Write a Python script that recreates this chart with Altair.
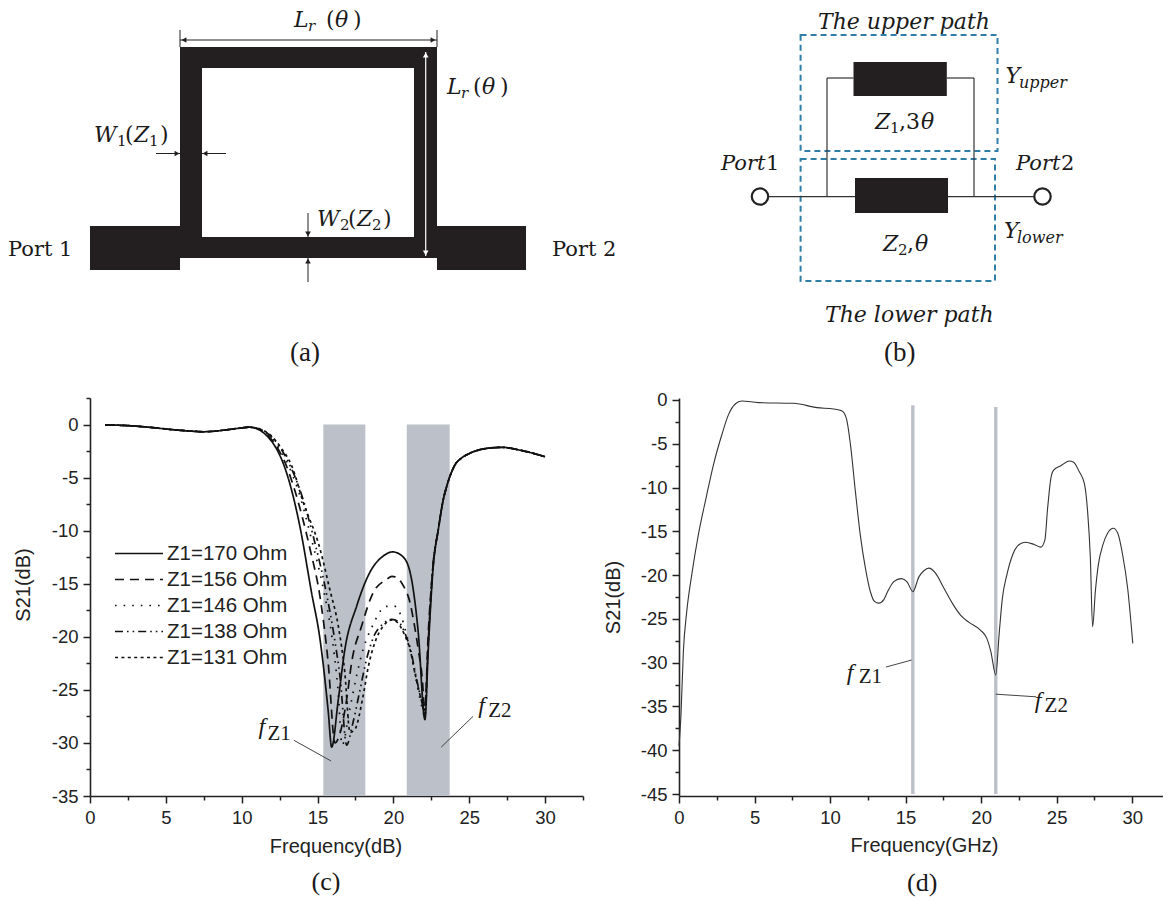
import altair as alt
import pandas as pd

SERIF = "Liberation Serif"
MATH = "DejaVu Serif"
SANS = "Liberation Sans"
INK = "#231f20"
BOX = "#2f7ea8"
BAND = "#bcc0c8"

# ---------- panel (a): layout drawing, units are drawing units ----------
a_rect_x = [180, 180, 414, 180, 90, 437]
a_rect_x2 = [437, 202, 437, 437, 180, 526]
a_rect_y = [47, 47, 47, 237, 226, 226]
a_rect_y2 = [68, 258, 258, 258, 270, 270]

a_line_x = [180, 180, 437, 156, 226, 308, 308]
a_line_x2 = [437, 180, 437, 180, 202, 308, 308]
a_line_y = [40, 30, 30, 153.5, 153.5, 213, 282]
a_line_y2 = [40, 47, 47, 153.5, 153.5, 237, 258]

a_white_x = [425.7]
a_white_y = [52]
a_white_y2 = [256]

a_arrow_x = [184, 433, 177, 205, 308, 308]
a_arrow_y = [40, 40, 153.5, 153.5, 234, 261]
a_arrow_s = ["triangle-left", "triangle-right", "triangle-right", "triangle-left", "triangle-down", "triangle-up"]
a_warrow_x = [425.7, 425.7]
a_warrow_y = [55, 253]
a_warrow_s = ["triangle-up", "triangle-down"]

a_it_text = ["L", "r", "θ", "L", "r", "θ", "W", "Z", "W", "Z"]
a_it_x = [294, 308, 335, 447, 461, 482, 94, 134, 317, 357]
a_it_y = [27, 31, 27, 94, 98, 94, 142, 142, 226, 226]
a_it_size = [22, 15, 22, 22, 15, 22, 22, 22, 22, 22]

a_ro_text = ["(", ")", "(", ")", "1", "(", "1", ")", "2", "(", "2", ")", "Port 1", "Port 2"]
a_ro_x = [326, 353, 473, 500, 117, 125, 149, 160, 340, 348, 372, 383, 8, 552]
a_ro_y = [27, 27, 94, 94, 146, 142, 146, 142, 230, 226, 230, 226, 256, 256]
a_ro_size = [22, 22, 22, 22, 15, 22, 15, 22, 15, 22, 15, 22, 21, 21]

# ---------- panel (b): circuit drawing ----------
b_box_x = [800.6, 800.6]
b_box_x2 = [997.5, 995]
b_box_y = [35, 159]
b_box_y2 = [151, 281]

b_block_x = [853.5, 855]
b_block_x2 = [946.8, 948]
b_block_y = [62, 178]
b_block_y2 = [96, 213]

b_wire_x = [760, 827, 827, 946.8, 974]
b_wire_x2 = [1042.5, 827, 853.5, 974, 974]
b_wire_y = [196.7, 78, 78, 78, 78]
b_wire_y2 = [196.7, 196.7, 78, 78, 196.7]

b_port_x = [760, 1042.5]
b_port_y = [196.5, 196.5]

b_it_text = ["The upper path", "The lower path", "Y", "upper", "Y", "lower", "Z", "θ", "Z", "θ", "Port", "Port"]
b_it_x = [818, 825, 1005.6, 1019, 1004, 1017, 875, 921, 883, 915, 721, 1016]
b_it_y = [28.5, 322, 83, 88, 238, 243, 129, 129, 251, 251, 170, 170]
b_it_size = [22, 22, 22, 16, 22, 16, 22, 22, 22, 22, 21, 21]

b_ro_text = ["1", ",", "3", "2", ",", "1", "2"]
b_ro_x = [890, 899, 906, 898, 907, 766, 1061]
b_ro_y = [133, 129, 129, 255, 251, 170, 170]
b_ro_size = [15, 22, 22, 15, 22, 21, 21]

# ---------- panel (c): simulated S21 ----------
PASS_X = [1, 2, 3, 4, 5, 6, 7, 7.5, 8, 9, 10, 10.5]
PASS_Y = [-0.03, -0.07, -0.15, -0.27, -0.42, -0.55, -0.65, -0.68, -0.65, -0.5, -0.32, -0.25]
TAIL_X = [22.96, 23.3, 23.5, 24.06, 24.5, 25.05, 26.15, 27.2, 28.3, 30]
TAIL_Y = [-9.9, -7.0, -5.9, -3.8, -3.15, -2.7, -2.25, -2.15, -2.4, -3.03]

z170_x = [11, 11.65, 12.3, 12.75, 13.18, 13.85, 14.6, 15.16, 15.71, 15.93, 16.37, 16.8, 17.58, 18.46, 19.32, 19.95, 20.66, 21.2, 21.64, 22.08, 22.3, 22.63]
z170_y = [-0.4, -1.05, -2.3, -3.7, -5.6, -9.7, -15.8, -20.2, -27.1, -30.4, -25.9, -21.2, -17.1, -13.9, -12.4, -12.0, -12.5, -14.6, -19.6, -27.8, -21.2, -13.3]
z156_x = [11, 11.7, 12.4, 12.95, 13.5, 14.5, 15.16, 15.7, 16.15, 16.5, 16.92, 17.25, 17.9, 18.68, 19.55, 19.9, 20.3, 20.66, 21.1, 21.36, 21.64, 21.97, 22.05, 22.3, 22.63]
z156_y = [-0.38, -1.0, -2.3, -3.9, -6.2, -11.7, -16.2, -22.4, -30.0, -29.0, -25.9, -22.4, -19.0, -15.8, -14.6, -14.3, -14.5, -15.2, -16.8, -18.7, -21.2, -25.3, -27.5, -19.6, -13.2]
z146_x = [11, 11.8, 12.5, 13.1, 13.7, 14.6, 15.4, 15.95, 16.35, 16.62, 17.1, 17.6, 18.0, 18.68, 19.0, 19.45, 20.04, 20.5, 20.83, 21.2, 21.53, 21.95, 22.08, 22.3, 22.6]
z146_y = [-0.36, -1.0, -2.3, -3.9, -6.1, -10.8, -15.6, -20.0, -25.0, -30.2, -27.0, -23.5, -21.2, -18.8, -17.9, -17.15, -17.1, -18.0, -19.6, -21.8, -24.3, -27.0, -27.6, -20.5, -13.6]
z138_x = [11, 11.85, 12.6, 13.2, 13.85, 14.8, 15.6, 16.1, 16.5, 16.92, 17.3, 17.8, 18.2, 18.7, 19.3, 19.9, 20.35, 20.8, 21.15, 21.5, 21.9, 22.07, 22.3, 22.6]
z138_y = [-0.34, -1.0, -2.3, -3.9, -6.2, -11.0, -16.0, -20.0, -24.0, -30.2, -28.3, -25.0, -22.3, -20.0, -18.8, -18.35, -18.6, -19.8, -21.3, -23.8, -26.3, -27.3, -20.5, -13.4]
z131_x = [11, 11.9, 12.65, 13.3, 14.05, 15.16, 15.8, 16.37, 16.8, 17.14, 17.47, 18.0, 18.35, 18.79, 19.33, 19.9, 20.3, 20.76, 21.1, 21.42, 21.85, 22.05, 22.3, 22.6]
z131_y = [-0.33, -1.0, -2.3, -3.9, -7.3, -11.7, -15.5, -19.0, -23.4, -29.0, -28.7, -25.6, -22.8, -20.5, -19.0, -18.4, -18.7, -19.9, -21.2, -23.4, -26.0, -27.0, -20.5, -13.5]

c_names = ["Z1=170 Ohm", "Z1=156 Ohm", "Z1=146 Ohm", "Z1=138 Ohm", "Z1=131 Ohm"]
c_dashes = [[1, 0], [9, 6], [1.6, 7], [8, 4, 1.6, 4, 1.6, 4], [3, 3.4]]
c_band_x = [15.38, 20.88]
c_band_x2 = [18.15, 23.71]
c_band_y = [0, 0]
c_band_y2 = [-35, -35]
c_lead_x = [13.44, 25.25]
c_lead_x2 = [15.89, 23.15]
c_lead_y = [-29.75, -27.5]
c_lead_y2 = [-31.7, -30.4]
c_it_text = ["f", "f"]
c_it_x = [11.1, 25.6]
c_it_y = [-29.2, -27.2]
c_sub_text = ["Z1", "Z2", "(c)"]
c_sub_x = [11.7, 26.25, 14.6]
c_sub_y = [-29.7, -27.6, -43.9]
c_sub_size = [21, 21, 26]

# ---------- panel (d): measured S21 ----------
d_x = [0.0, 0.13, 0.29, 0.51, 0.84, 1.28, 1.79, 2.28, 2.83, 3.27, 3.72, 4.16, 5.26, 7.59, 9.14, 10.24, 10.79, 11.08, 11.35, 11.68, 12.0, 12.34, 12.67, 12.94, 13.23, 13.56, 13.78, 14.22, 14.71, 15.11, 15.48, 15.88, 16.21, 16.54, 16.99, 17.54, 18.09, 18.65, 19.2, 19.97, 20.37, 20.64, 20.97, 21.19, 21.41, 21.7, 22.08, 22.52, 22.96, 23.51, 23.95, 24.22, 24.4, 24.62, 24.8, 25.28, 25.83, 26.12, 26.5, 26.83, 27.05, 27.23, 27.38, 27.56, 27.76, 28.05, 28.38, 28.75, 29.04, 29.37, 29.7, 30.04]
d_y = [-39.5, -36.0, -28.7, -24.2, -20.0, -15.4, -11.2, -7.4, -4.0, -1.7, -0.46, -0.11, -0.3, -0.38, -0.87, -1.03, -1.25, -2.1, -5.1, -10.5, -15.4, -19.2, -21.9, -23.0, -23.2, -22.8, -22.0, -20.75, -20.4, -20.8, -21.9, -20.2, -19.5, -19.2, -19.8, -21.5, -23.2, -24.6, -25.4, -26.3, -27.2, -28.7, -31.4, -26.8, -22.6, -20.0, -17.7, -16.5, -16.25, -16.5, -16.8, -16.0, -12.4, -8.9, -8.0, -7.5, -6.97, -7.1, -8.2, -9.5, -12.75, -18.0, -25.9, -21.9, -18.8, -16.6, -15.2, -14.65, -15.2, -17.7, -21.5, -27.8]
d_mark_x = [15.48, 20.97]
d_mark_top = [-0.6, -0.8]
d_mark_bottom = [-45, -45]
d_lead_x = [13.7, 20.97]
d_lead_x2 = [15.4, 23.65]
d_lead_y = [-30.5, -33.6]
d_lead_y2 = [-29.7, -33.9]
d_it_text = ["f", "f"]
d_it_x = [11.1, 23.55]
d_it_y = [-32.0, -35.2]
d_sub_text = ["Z1", "Z2", "(d)"]
d_sub_x = [11.9, 24.2, 15.1]
d_sub_y = [-32.3, -35.6, -56.1]
d_sub_size = [21, 21, 26]

c_x_ticks = [i * 2.5 for i in range(14)]
c_y_ticks = [2.5 - i * 2.5 for i in range(16)]
d_x_ticks = [i * 2.5 for i in range(13)]
d_y_ticks = [-i * 2.5 for i in range(19)]

# ---------- helpers ----------
SX_A = alt.Scale(domain=[90, 583], nice=False, zero=False)
SX_B = alt.Scale(domain=[679, 1163], nice=False, zero=False)
SY = alt.Scale(domain=[370, 8], nice=False, zero=False)
S_C_X = alt.Scale(domain=[0, 32.5], nice=False, zero=False)
S_C_Y = alt.Scale(domain=[-35, 2.5], nice=False, zero=False)
S_D_X = alt.Scale(domain=[0, 32.04], nice=False, zero=False)
S_D_Y = alt.Scale(domain=[-45.228, 0.228], nice=False, zero=False)


def make_axis(title, values, labels_at=5, **kw):
    test = f"abs(datum.value % {labels_at}) < 0.01"
    return alt.Axis(
        title=title, values=values, grid=False, labelOverlap=False,
        labelExpr=f"{test} ? '' + datum.value : ''",
        tickSize={"condition": {"test": test, "value": 7}, "value": 4},
        tickColor="#222222", tickWidth=1.5, domainColor="#222222", domainWidth=1.6,
        labelColor="#222222", labelFont=SANS, labelFontSize=18.5, labelPadding=5,
        titleColor="#222222", titleFont=SANS, titleFontSize=20, titleFontWeight="normal",
        labelFlush=False, labelBound=False, **kw)


AX_C_X = make_axis("Frequency(dB)", c_x_ticks, titleX=245.5, titleY=40)
AX_C_Y = make_axis("S21(dB)", c_y_ticks, titleX=-56.5, titleY=186.5)
AX_D_X = make_axis("Frequency(GHz)", d_x_ticks, titleX=245, titleY=39)
AX_D_Y = make_axis("S21(dB)", d_y_ticks, titleX=-56, titleY=199)
AXES = {id(SX_A): None, id(SX_B): None, id(SY): None,
        id(S_C_X): AX_C_X, id(S_C_Y): AX_C_Y, id(S_D_X): AX_D_X, id(S_D_Y): AX_D_Y}


def X(f, s):
    return alt.X(f, scale=s, axis=AXES[id(s)])


def Y(f, s):
    return alt.Y(f, scale=s, axis=AXES[id(s)])


def rects(xs, x2s, ys, y2s, sx, sy, **mark):
    d = pd.DataFrame({"x": xs, "x2": x2s, "y": ys, "y2": y2s})
    return alt.Chart(d).mark_rect(**mark).encode(x=X("x:Q", sx), x2="x2:Q", y=Y("y:Q", sy), y2="y2:Q")


def segs(xs, x2s, ys, y2s, sx, sy, **mark):
    d = pd.DataFrame({"x": xs, "x2": x2s, "y": ys, "y2": y2s})
    return alt.Chart(d).mark_rule(**mark).encode(x=X("x:Q", sx), x2="x2:Q", y=Y("y:Q", sy), y2="y2:Q")


def arrows(xs, ys, shapes, sx, sy, color):
    d = pd.DataFrame({"x": xs, "y": ys, "s": shapes})
    return alt.Chart(d).mark_point(filled=True, size=32, opacity=1, color=color).encode(
        x=X("x:Q", sx), y=Y("y:Q", sy), shape=alt.Shape("s:N", scale=None))


def texts(ts, xs, ys, sizes, sx, sy, italic=False, color="#1a1a1a", font=SERIF):
    d = pd.DataFrame({"t": ts, "x": xs, "y": ys, "z": sizes})
    kw = {"fontStyle": "italic"} if italic else {}
    return alt.Chart(d).mark_text(align="left", baseline="alphabetic", font=font, color=color, **kw).encode(
        x=X("x:Q", sx), y=Y("y:Q", sy), size=alt.Size("z:Q", scale=None), text="t:N")


# ---------- build panels ----------
panel_a = alt.layer(
    rects(a_rect_x, a_rect_x2, a_rect_y, a_rect_y2, SX_A, SY, color=INK),
    segs(a_line_x, a_line_x2, a_line_y, a_line_y2, SX_A, SY, color=INK, strokeWidth=1),
    segs(a_white_x, a_white_x, a_white_y, a_white_y2, SX_A, SY, color="white", strokeWidth=1.2),
    arrows(a_arrow_x, a_arrow_y, a_arrow_s, SX_A, SY, INK),
    arrows(a_warrow_x, a_warrow_y, a_warrow_s, SX_A, SY, "white"),
    texts(a_it_text, a_it_x, a_it_y, a_it_size, SX_A, SY, italic=True, font=MATH),
    texts(a_ro_text, a_ro_x, a_ro_y, a_ro_size, SX_A, SY, font=MATH),
    texts(["(a)"], [290], [361], [27], SX_A, SY),
).properties(width=493, height=362)

port_df = pd.DataFrame({"x": b_port_x, "y": b_port_y})
panel_b = alt.layer(
    rects(b_box_x, b_box_x2, b_box_y, b_box_y2, SX_B, SY, fillOpacity=0, stroke=BOX, strokeWidth=2, strokeDash=[6, 4]),
    segs(b_wire_x, b_wire_x2, b_wire_y, b_wire_y2, SX_B, SY, color="#333333", strokeWidth=1.2),
    rects(b_block_x, b_block_x2, b_block_y, b_block_y2, SX_B, SY, color=INK),
    alt.Chart(port_df).mark_point(size=270, fill="white", fillOpacity=1, stroke="#222222", strokeWidth=2.2, opacity=1, shape="circle").encode(
        x=X("x:Q", SX_B), y=Y("y:Q", SY)),
    texts(b_it_text, b_it_x, b_it_y, b_it_size, SX_B, SY, italic=True, font=MATH),
    texts(b_ro_text, b_ro_x, b_ro_y, b_ro_size, SX_B, SY, font=MATH),
    texts(["(b)"], [884], [361], [27], SX_B, SY),
).properties(width=484, height=362)

rows = []
all_c = [(PASS_X + z170_x + TAIL_X, PASS_Y + z170_y + TAIL_Y),
         (PASS_X + z156_x + TAIL_X, PASS_Y + z156_y + TAIL_Y),
         (PASS_X + z146_x + TAIL_X, PASS_Y + z146_y + TAIL_Y),
         (PASS_X + z138_x + TAIL_X, PASS_Y + z138_y + TAIL_Y),
         (PASS_X + z131_x + TAIL_X, PASS_Y + z131_y + TAIL_Y)]
for name, (xs, ys) in zip(c_names, all_c):
    rows += [{"series": name, "f": a, "s21": b} for a, b in zip(xs, ys)]
c_df = pd.DataFrame(rows)

c_lines = alt.Chart(c_df).mark_line(interpolate="monotone", color="#111111", strokeWidth=1.7).encode(
    x=X("f:Q", S_C_X), y=Y("s21:Q", S_C_Y),
    strokeDash=alt.StrokeDash("series:N", sort=c_names, scale=alt.Scale(domain=c_names, range=c_dashes), legend=alt.Legend(
        title=None, orient="none", legendX=24, legendY=145.5, padding=0, symbolType="stroke", symbolSize=2304,
        symbolStrokeColor="#111111", symbolStrokeWidth=1.6, labelFont=SANS, labelFontSize=20.5, labelColor="#222222",
        labelOffset=3, rowPadding=5, clipHeight=20, columnPadding=0)))

panel_c = alt.layer(
    rects(c_band_x, c_band_x2, c_band_y, c_band_y2, S_C_X, S_C_Y, color=BAND),
    c_lines,
    segs(c_lead_x, c_lead_x2, c_lead_y, c_lead_y2, S_C_X, S_C_Y, color="#444444", strokeWidth=1),
    texts(c_it_text, c_it_x, c_it_y, [24, 24], S_C_X, S_C_Y, italic=True),
    texts(c_sub_text, c_sub_x, c_sub_y, c_sub_size, S_C_X, S_C_Y),
).properties(width=493, height=398)

d_df = pd.DataFrame({"f": d_x, "s21": d_y})
d_mark_df = pd.DataFrame({"x": d_mark_x, "y": d_mark_top, "y2": d_mark_bottom})
panel_d = alt.layer(
    alt.Chart(d_mark_df).mark_rule(color=BAND, strokeWidth=3.4).encode(
        x=X("x:Q", S_D_X), y=Y("y:Q", S_D_Y), y2="y2:Q"),
    alt.Chart(d_df).mark_line(interpolate="monotone", color="#333333", strokeWidth=1.1).encode(
        x=X("f:Q", S_D_X), y=Y("s21:Q", S_D_Y)),
    segs(d_lead_x, d_lead_x2, d_lead_y, d_lead_y2, S_D_X, S_D_Y, color="#444444", strokeWidth=1),
    texts(d_it_text, d_it_x, d_it_y, [24, 24], S_D_X, S_D_Y, italic=True),
    texts(d_sub_text, d_sub_x, d_sub_y, d_sub_size, S_D_X, S_D_Y),
).properties(width=484, height=398)

chart = alt.concat(panel_a, panel_b, panel_c, panel_d, columns=2,
                   spacing={"row": 28, "column": 96}, bounds="flush").properties(
    padding=0, background="white"
).resolve_scale(x="independent", y="independent", strokeDash="independent").configure_view(stroke=None)

chart.save("out.html", embed_options={"renderer": "svg", "actions": False})
